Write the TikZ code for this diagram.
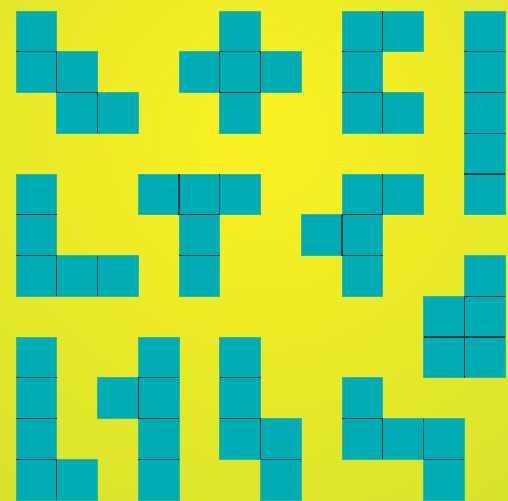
\documentclass[tikz,border=0pt]{standalone}
\definecolor{bgin}{RGB}{252,242,34}
\definecolor{bgout}{RGB}{202,220,48}
\definecolor{tealc}{RGB}{0,173,181}
\definecolor{edgec}{RGB}{25,60,66}
\tikzset{cellbox/.style={fill=tealc,draw=tealc!85!yellow,line width=0.3pt},
         seam/.style={draw=edgec,line width=0.6pt}}
\newcommand{\cellsq}[2]{\path[cellbox] ({16+40.75*#1},{11+40.75*#2}) rectangle ++(40.75,40.75);}
\newcommand{\hseam}[2]{\path[seam] ({16+40.75*#1},{11+40.75*#2}) -- ++(40.75,0);}
\newcommand{\vseam}[2]{\path[seam] ({16+40.75*#1},{11+40.75*#2}) -- ++(0,40.75);}
\begin{document}
\begin{tikzpicture}[x=0.5pt,y=-0.5pt]
\useasboundingbox (0,0) rectangle (508,500);
\begin{scope}
\clip (0,0) rectangle (508,500);
\fill[bgout] (0,0) rectangle (508,500);
\shade[inner color=bgin,outer color=bgout] (262,135) circle (620);
\end{scope}
% shape 1
\cellsq{0}{0}\cellsq{0}{1}\cellsq{1}{1}\cellsq{1}{2}\cellsq{2}{2}
\hseam{0}{1}\vseam{1}{1}\hseam{1}{2}\vseam{2}{2}
% shape 2
\cellsq{5}{0}\cellsq{4}{1}\cellsq{5}{1}\cellsq{6}{1}\cellsq{5}{2}
\hseam{5}{1}\hseam{5}{2}\vseam{5}{1}\vseam{6}{1}
% shape 3
\cellsq{8}{0}\cellsq{9}{0}\cellsq{8}{1}\cellsq{8}{2}\cellsq{9}{2}
\vseam{9}{0}\hseam{8}{1}\hseam{8}{2}\vseam{9}{2}
% shape 4
\cellsq{11}{0}\cellsq{11}{1}\cellsq{11}{2}\cellsq{11}{3}\cellsq{11}{4}
\hseam{11}{1}\hseam{11}{2}\hseam{11}{3}\hseam{11}{4}
% shape 5
\cellsq{0}{4}\cellsq{0}{5}\cellsq{0}{6}\cellsq{1}{6}\cellsq{2}{6}
\hseam{0}{5}\hseam{0}{6}\vseam{1}{6}\vseam{2}{6}
% shape 6
\cellsq{3}{4}\cellsq{4}{4}\cellsq{5}{4}\cellsq{4}{5}\cellsq{4}{6}
\vseam{4}{4}\vseam{5}{4}\hseam{4}{5}\hseam{4}{6}
% shape 7
\cellsq{8}{4}\cellsq{9}{4}\cellsq{7}{5}\cellsq{8}{5}\cellsq{8}{6}
\vseam{9}{4}\hseam{8}{5}\vseam{8}{5}\hseam{8}{6}
% shape 8
\cellsq{11}{6}\cellsq{10}{7}\cellsq{11}{7}\cellsq{10}{8}\cellsq{11}{8}
\hseam{11}{7}\vseam{11}{7}\vseam{11}{8}\hseam{10}{8}\hseam{11}{8}
% shape 9
\cellsq{0}{8}\cellsq{0}{9}\cellsq{0}{10}\cellsq{0}{11}\cellsq{1}{11}
\hseam{0}{9}\hseam{0}{10}\hseam{0}{11}\vseam{1}{11}
% shape 10
\cellsq{3}{8}\cellsq{3}{9}\cellsq{3}{10}\cellsq{3}{11}\cellsq{2}{9}
\hseam{3}{9}\hseam{3}{10}\hseam{3}{11}\vseam{3}{9}
% shape 11
\cellsq{5}{8}\cellsq{5}{9}\cellsq{5}{10}\cellsq{6}{10}\cellsq{6}{11}
\hseam{5}{9}\hseam{5}{10}\vseam{6}{10}\hseam{6}{11}
% shape 12
\cellsq{8}{9}\cellsq{8}{10}\cellsq{9}{10}\cellsq{10}{10}\cellsq{10}{11}
\hseam{8}{10}\vseam{9}{10}\vseam{10}{10}\hseam{10}{11}
\end{tikzpicture}
\end{document}
